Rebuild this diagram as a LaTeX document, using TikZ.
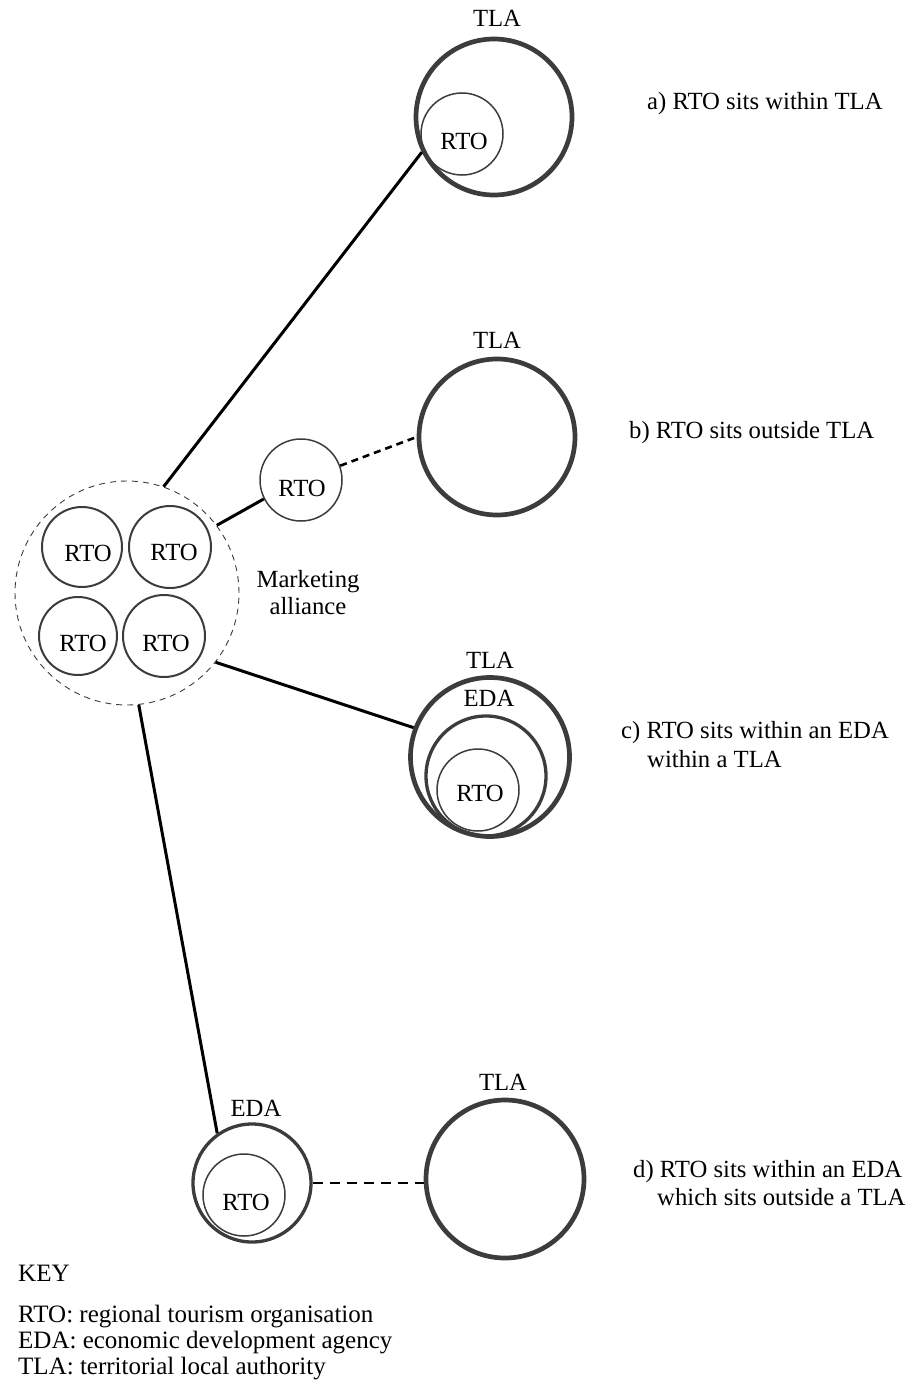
\documentclass[tikz,border=0pt]{standalone}
\usepackage{fontspec}
\setmainfont{Liberation Serif}
\definecolor{ring}{HTML}{3C3C3C}
\tikzset{
  tla/.style={circle, draw=ring, line width=4.7pt, inner sep=0pt},
  eda/.style={circle, draw=ring, line width=3.3pt, inner sep=0pt},
  rto/.style={circle, draw=ring, line width=1.5pt, inner sep=0pt},
  rtoA/.style={circle, draw=ring, line width=2pt, inner sep=0pt},
  alliance/.style={circle, draw=ring, line width=0.9pt, dash pattern=on 6pt off 5pt, inner sep=0pt},
  txt/.style={font=\fontsize{24.7}{28}\selectfont, inner sep=0pt},
  keytxt/.style={font=\fontsize{25}{28}\selectfont, inner sep=0pt, anchor=base west},
  link/.style={line width=3pt, black},
  dlink/.style={line width=2.6pt, black, dash pattern=on 7pt off 5pt},
}
\begin{document}
\begin{tikzpicture}[x=1pt,y=-1pt]
\useasboundingbox (0,0) rectangle (909,1383);

% panel a
\node[tla, minimum size=156pt] (tlaA) at (494,117) {};
\node[rto, minimum size=82pt] (rtoA) at (462,134) {};
\node[txt] at (497,18) {TLA};
\node[txt] at (464,141) {RTO};
\node[txt, anchor=base west] at (647,110) {a) RTO sits within TLA};

% panel b
\node[tla, minimum size=156pt] (tlaB) at (497,437) {};
\node[rto, minimum size=82pt] (rtoB) at (301,480) {};
\node[txt] at (497,340) {TLA};
\node[txt] at (302,488) {RTO};
\node[txt, anchor=base west] at (629,438) {b) RTO sits outside TLA};

% marketing alliance
\node[alliance, minimum size=224pt] (all) at (127,593) {};
\node[rtoA, minimum size=80pt] (r1) at (82,547) {};
\node[rtoA, minimum size=82pt] (r2) at (170,547) {};
\node[rtoA, minimum size=78pt] (r3) at (78,636) {};
\node[rtoA, minimum size=82pt] (r4) at (164,636) {};
\node[txt] at (88,553) {RTO};
\node[txt] at (174,552) {RTO};
\node[txt] at (83,643) {RTO};
\node[txt] at (166,643) {RTO};
\node[txt, anchor=base] at (308,587) {Marketing};
\node[txt, anchor=base] at (308,614) {alliance};

% panel c
\node[tla, minimum size=159pt] (tlaC) at (490,757) {};
\node[eda, minimum size=120pt] (edaC) at (486,776) {};
\node[rto, minimum size=82pt] (rtoC) at (478,790) {};
\node[txt] at (490,660) {TLA};
\node[txt] at (489,698) {EDA};
\node[txt] at (480,793) {RTO};
\node[txt, anchor=base west] at (621,738) {c) RTO sits within an EDA};
\node[txt, anchor=base west] at (647,767) {within a TLA};

% panel d
\node[eda, minimum size=118pt] (edaD) at (252,1183) {};
\node[rto, minimum size=82pt] (rtoD) at (244,1195) {};
\node[tla, minimum size=158pt] (tlaD) at (505,1179) {};
\node[txt] at (256,1108) {EDA};
\node[txt] at (246,1202) {RTO};
\node[txt] at (503,1082) {TLA};
\node[txt, anchor=base west] at (633,1177) {d) RTO sits within an EDA};
\node[txt, anchor=base west] at (657,1205) {which sits outside a TLA};

% connectors
\draw[link] (all.71.6) -- (tlaA.206);
\draw[link] (all.37.9) -- (rtoB.207);
\draw[dlink] (rtoB.20) -- (tlaB.180);
\draw[link] (all.-38) -- (tlaC.159.5);
\draw[link] (all.-84) -- (edaD.125.3);
\draw[dlink, dash pattern=on 10pt off 7pt] (edaD.east) -- (edaD.east -| tlaD.west);

% key
\node[keytxt] at (18,1281) {KEY};
\node[keytxt] at (18,1322) {RTO: regional tourism organisation};
\node[keytxt] at (18,1348) {EDA: economic development agency};
\node[keytxt] at (18,1374) {TLA: territorial local authority};
\end{tikzpicture}
\end{document}
